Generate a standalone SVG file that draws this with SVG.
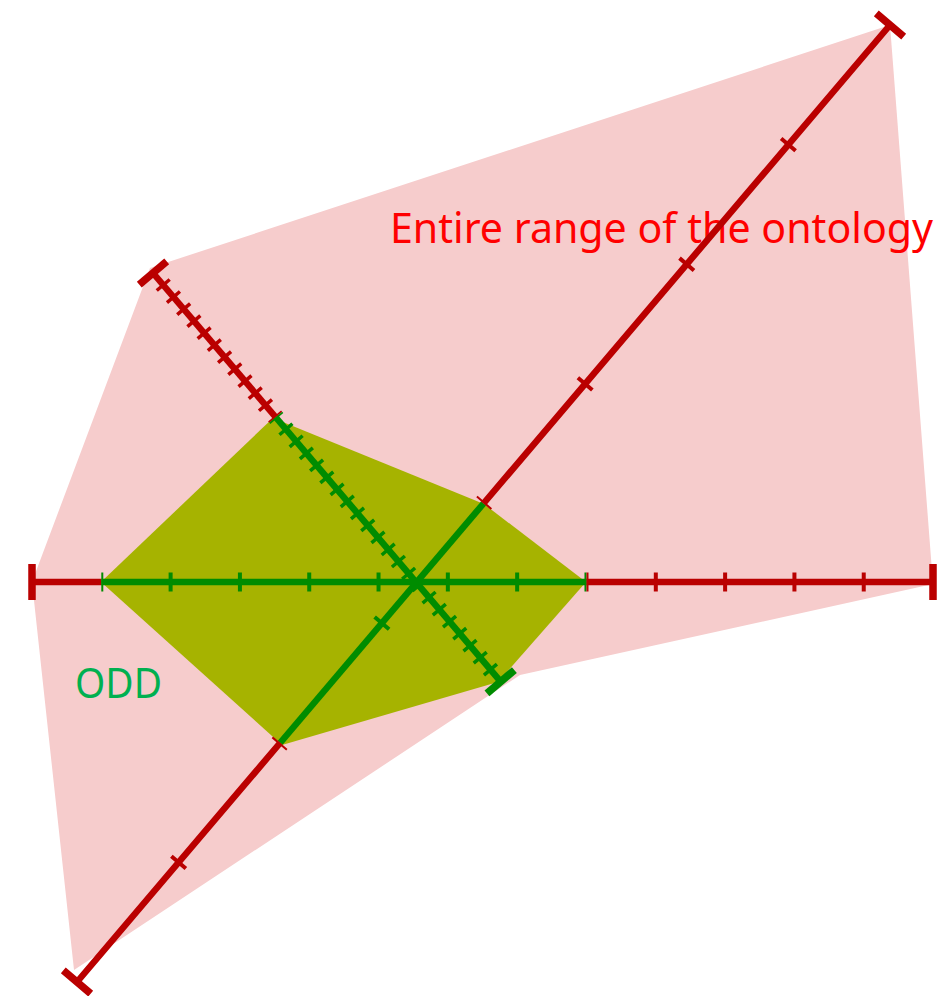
<svg xmlns="http://www.w3.org/2000/svg" width="952" height="996" viewBox="0 0 952 996">
  <style>
    .line { fill: none; stroke-width: 6.5; stroke-linecap: butt; }
    .ticks { fill: none; stroke-linecap: butt; }
    .cap { fill: none; stroke-width: 7.5; stroke-linecap: butt; }
    .red { stroke: #BA0000; }
    .green { stroke: #008C00; }
    .label { font-family: "Noto Sans", "Open Sans", "Liberation Sans", sans-serif; font-size: 42px; }
  </style>
  <rect width="952" height="996" fill="#FFFFFF"/>

  <g id="entire-range">
    <polygon points="150,268 890,25 933,584 520,675 74,970 32,582" fill="#F6CCCC"/>
    <text class="label" x="390" y="243" fill="#FF0000" textLength="543" lengthAdjust="spacingAndGlyphs">Entire range of the ontology</text>
  </g>

  <g id="odd">
    <polygon points="101,582 273,418 484,504 586,582 498,682 282,745" fill="#A6B300"/>
    <text class="label" x="75" y="698" fill="#00B050" textLength="87" lengthAdjust="spacingAndGlyphs">ODD</text>
  </g>

  <g id="connectors">
    <!-- Horizontal axis -->
    <g id="axis-horizontal">
      <path class="line red" d="M32,582 H101.3 M586.5,582 H933"/>
      <path class="line green" d="M101.3,582 H586.5"/>
      <path class="ticks green" d="M101.3,582 H586.5" stroke-width="19" stroke-dasharray="4 65.31" stroke-dashoffset="2"/>
      <path class="ticks red" d="M586.5,582 H933" stroke-width="19" stroke-dasharray="4 65.31" stroke-dashoffset="2"/>
      <path class="cap red" d="M32,564 V600 M933,564 V600"/>
    </g>

    <!-- Diagonal SW-NE axis -->
    <g id="axis-diagonal-ne">
      <path class="line red" d="M77,982 L280.25,742.75 M483.5,503.5 L890,25"/>
      <path class="line green" d="M280.25,742.75 L483.5,503.5"/>
      <path class="ticks red" d="M77,982 L280.25,742.75" stroke-width="19" stroke-dasharray="4 152.96" stroke-dashoffset="2"/>
      <path class="ticks green" d="M280.25,742.75 L483.5,503.5" stroke-width="19" stroke-dasharray="0 156.96 4 152.96" stroke-dashoffset="2"/>
      <path class="ticks red" d="M483.5,503.5 L890,25" stroke-width="19" stroke-dasharray="4 152.96" stroke-dashoffset="2"/>
      <path class="cap red" d="M63.3,970.35 L90.7,993.65 M876.3,13.35 L903.7,36.65"/>
    </g>

    <!-- Diagonal NW-SE axis -->
    <g id="axis-diagonal-se">
      <path class="line red" d="M153,273 L275.71,417.25"/>
      <path class="line green" d="M275.71,417.25 L500.68,681.71"/>
      <path class="ticks red" d="M153,273 L275.71,417.25" stroke-width="17" stroke-dasharray="3.5 12.28" stroke-dashoffset="1.75"/>
      <path class="ticks green" d="M275.71,417.25 L500.68,681.71" stroke-width="17" stroke-dasharray="3.5 12.28" stroke-dashoffset="1.75"/>
      <path class="cap red" d="M139.29,284.66 L166.71,261.34"/>
      <path class="cap green" d="M486.97,693.37 L514.39,670.05"/>
    </g>
  </g>
</svg>
